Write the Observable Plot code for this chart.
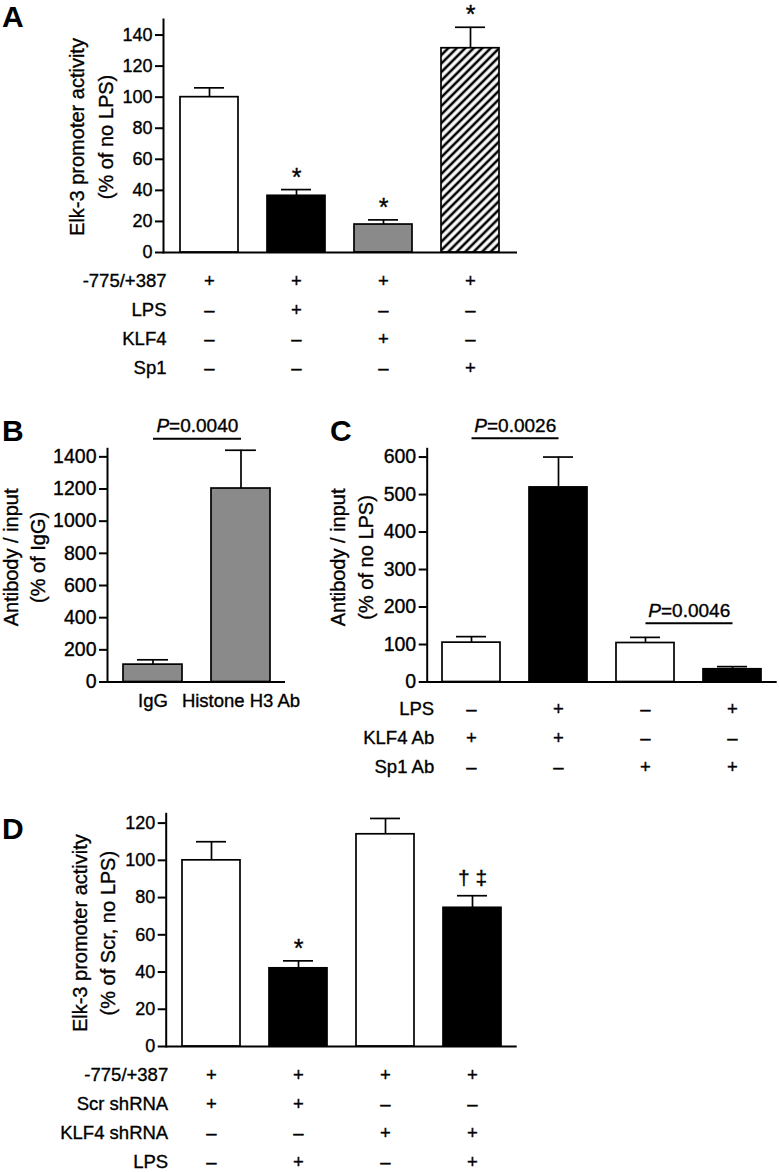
<!DOCTYPE html>
<html><head><meta charset="utf-8">
<script src="https://cdn.jsdelivr.net/npm/d3@7"></script>
<script src="https://cdn.jsdelivr.net/npm/@observablehq/plot@0.6"></script>
<style>
body{margin:0;background:#fff;}
#fig{position:relative;width:779px;height:1172px;font-family:"Liberation Sans",Arial,Helvetica,sans-serif;background:#fff;overflow:hidden;}
#fig svg.plot{position:absolute;}
#fig svg.plot text{stroke:black;stroke-width:0.35px;}
.letter{position:absolute;font-weight:bold;font-size:30px;line-height:30px;color:#000;}
</style></head><body>
<svg width="0" height="0" style="position:absolute"><defs>
<pattern id="hatch" patternUnits="userSpaceOnUse" width="6" height="6" patternTransform="rotate(45)">
<rect width="6" height="6" fill="white"/><line x1="3" y1="-1" x2="3" y2="7" stroke="black" stroke-width="2.6"/>
</pattern></defs></svg>
<div id="fig"></div>
<script>
// ---------- Panel A data ----------
const groupsA = ["ctrl", "LPS", "KLF4", "Sp1"];
const meanA = [100, 36.5, 18, 131.5];
const upperA = [106, 40.5, 21, 145];
const sigA = ["", "*", "*", "*"];
const rowLabelsA = ["-775/+387", "LPS", "KLF4", "Sp1"];
const rowSignsA = [["+", "+", "+", "+"], ["–", "+", "–", "–"], ["–", "–", "+", "–"], ["–", "–", "–", "+"]];
const ticksA = [0, 20, 40, 60, 80, 100, 120, 140];

// ---------- Panel B data ----------
const groupsB = ["IgG", "Histone H3 Ab"];
const meanB = [108, 1203];
const upperB = [138, 1441];
const compB = [{from: "IgG", to: "Histone H3 Ab", label: "P=0.0040", level: 1513}];
const ticksB = [0, 200, 400, 600, 800, 1000, 1200, 1400];

// ---------- Panel C data ----------
const groupsC = ["KLF4 Ab", "KLF4 Ab + LPS", "Sp1 Ab", "Sp1 Ab + LPS"];
const meanC = [105, 519, 104, 34];
const upperC = [121, 600, 119, 41];
const compC = [
  {from: "KLF4 Ab", to: "KLF4 Ab + LPS", label: "P=0.0026", level: 650},
  {from: "Sp1 Ab", to: "Sp1 Ab + LPS", label: "P=0.0046", level: 157}
];
const rowLabelsC = ["LPS", "KLF4 Ab", "Sp1 Ab"];
const rowSignsC = [["–", "+", "–", "+"], ["+", "+", "–", "–"], ["–", "–", "+", "+"]];
const ticksC = [0, 100, 200, 300, 400, 500, 600];

// ---------- Panel D data ----------
const groupsD = ["Scr", "Scr + LPS", "KLF4 shRNA", "KLF4 shRNA + LPS"];
const meanD = [100, 42, 114, 74.5];
const upperD = [110, 46, 122.5, 81];
const sigD = ["", "*", "", "† ‡"];
const rowLabelsD = ["-775/+387", "Scr shRNA", "KLF4 shRNA", "LPS"];
const rowSignsD = [["+", "+", "+", "+"], ["+", "+", "–", "–"], ["–", "–", "+", "+"], ["–", "+", "–", "+"]];
const ticksD = [0, 20, 40, 60, 80, 100, 120];

// ---------- styles ----------
const GRAY = "#8a8a8a";
const fillsA = ["white", "black", GRAY, "url(#hatch)"];
const fillsB = [GRAY, GRAY];
const fillsC = ["white", "black", "white", "black"];
const fillsD = ["white", "black", "white", "black"];
const FONT = '"Liberation Sans", Arial, Helvetica, sans-serif';

function panel(o) {
  const n = o.groups.length;
  const data = o.groups.map((g, i) => ({g, v: o.mean[i], e: o.upper[i], f: o.fills[i], s: o.sig ? o.sig[i] : ""}));
  const step = (o.width - o.ml - o.mr) / (n - o.pi + 2 * o.po);
  const marks = [
    Plot.barY(data, {x: "g", y: "v", fill: "f", stroke: "black", strokeWidth: 1.7}),
    Plot.ruleX(data, {x: "g", y1: "v", y2: "e", stroke: "black", strokeWidth: 1.7}),
    Plot.tickY(data, {x: "g", y: "e", stroke: "black", strokeWidth: 1.7, insetLeft: 14, insetRight: 14}),
    Plot.ruleY([0], {stroke: "black", strokeWidth: 2}),
    Plot.frame({anchor: "left", stroke: "black", strokeWidth: 2}),
    Plot.axisY({ticks: o.ticks, tickFormat: d => String(d), tickSize: 8, tickPadding: 3, fontSize: o.tickFont, label: null, stroke: "black", strokeWidth: 2, fill: "black"}),
    Plot.text([o.ylab[0]], {text: d => d, frameAnchor: "left", rotate: -90, fontSize: 20, textAnchor: "middle", lineAnchor: "middle", dx: o.ylabX[0] - o.ml, dy: o.ylabDy}),
    Plot.text([o.ylab[1]], {text: d => d, frameAnchor: "left", rotate: -90, fontSize: 20, textAnchor: "middle", lineAnchor: "middle", dx: o.ylabX[1] - o.ml, dy: o.ylabDy})
  ];
  if (o.sig) {
    marks.push(Plot.text(data, {filter: d => d.s === "*", x: "g", y: "e", text: "s", lineAnchor: "bottom", dy: -4, fontSize: 25}));
    marks.push(Plot.text(data, {filter: d => d.s !== "*" && d.s !== "", x: "g", y: "e", text: "s", lineAnchor: "bottom", dy: -11, fontSize: 21}));
  }
  if (o.comps) {
    marks.push(Plot.link(o.comps, {x1: "from", x2: "to", y1: "level", y2: "level", stroke: "black", strokeWidth: 2}));
    marks.push(Plot.text(o.comps, {x: "from", y: "level", text: "label", dx: step / 2, dy: -6.5, lineAnchor: "bottom", fontSize: 19}));
  }
  if (o.xlabels) {
    marks.push(Plot.text(o.groups, {x: d => d, text: (d, j) => o.xlabels[j], frameAnchor: "bottom", lineAnchor: "middle", dy: 19.5, fontSize: 18.5}));
  }
  if (o.rowLabels) {
    o.rowLabels.forEach((lab, i) => {
      marks.push(Plot.text([lab], {text: d => d, frameAnchor: "bottom-left", textAnchor: "end", lineAnchor: "middle", dx: o.rowDx, dy: o.rowY[i], fontSize: 18.5}));
      marks.push(Plot.text(o.groups, {x: d => d, text: (d, j) => o.rowSigns[i][j], frameAnchor: "bottom", lineAnchor: "middle", dy: o.rowY[i], fontSize: 18.5}));
    });
  }
  const svg = Plot.plot({
    width: o.width, height: o.height,
    marginLeft: o.ml, marginRight: o.mr, marginTop: o.mt, marginBottom: o.mb,
    x: {type: "band", domain: o.groups, paddingInner: o.pi, paddingOuter: o.po, axis: null},
    y: {domain: o.yDomain},
    color: {type: "identity"},
    style: {fontFamily: FONT, fontSize: "18px", color: "black", background: "transparent", overflow: "visible"},
    marks
  });
  // italic P in p-value labels
  d3.select(svg).selectAll("text").each(function () {
    const t = this.textContent;
    if (/^P=/.test(t) && this.childNodes.length === 1) {
      this.textContent = "";
      const ts = document.createElementNS("http://www.w3.org/2000/svg", "tspan");
      ts.setAttribute("font-style", "italic");
      ts.textContent = "P";
      this.appendChild(ts);
      this.appendChild(document.createTextNode(t.slice(1)));
    }
  });
  svg.classList.add("plot");
  svg.style.left = o.left + "px";
  svg.style.top = o.top + "px";
  svg.style.position = "absolute";
  return svg;
}

const fig = document.getElementById("fig");

fig.appendChild(panel({
  left: 0, top: 0, width: 530, height: 385, ml: 163, mr: 13, mt: 19, mb: 133,
  groups: groupsA, mean: meanA, upper: upperA, fills: fillsA, sig: sigA,
  yDomain: [0, 150], ticks: ticksA, tickFont: 18, pi: 0.33, po: 0.19,
  ylab: ["Elk-3 promoter activity", "(% of no LPS)"], ylabX: [77, 106], ylabDy: 1,
  rowLabels: rowLabelsA, rowSigns: rowSignsA, rowY: [29, 58, 87, 116], rowDx: 3
}));

fig.appendChild(panel({
  left: 0, top: 400, width: 300, height: 320, ml: 107, mr: 15, mt: 48.3, mb: 38.5,
  groups: groupsB, mean: meanB, upper: upperB, fills: fillsB,
  yDomain: [0, 1450], ticks: ticksB, tickFont: 19.5, pi: 0.334, po: 0.17,
  ylab: ["Antibody / input", "(% of IgG)"], ylabX: [11, 38], ylabDy: -8,
  comps: compB, xlabels: groupsB
}));

fig.appendChild(panel({
  left: 320, top: 400, width: 459, height: 380, ml: 106.7, mr: 2.3, mt: 48.3, mb: 98.5,
  groups: groupsC, mean: meanC, upper: upperC, fills: fillsC,
  yDomain: [0, 622], ticks: ticksC, tickFont: 19.5, pi: 0.33, po: 0.165,
  ylab: ["Antibody / input", "(% of no LPS)"], ylabX: [18, 46], ylabDy: -8,
  comps: compC,
  rowLabels: rowLabelsC, rowSigns: rowSignsC, rowY: [27, 56, 85], rowDx: 7
}));

fig.appendChild(panel({
  left: 0, top: 790, width: 530, height: 382, ml: 165.7, mr: 13.3, mt: 23.3, mb: 126,
  groups: groupsD, mean: meanD, upper: upperD, fills: fillsD, sig: sigD,
  yDomain: [0, 125], ticks: ticksD, tickFont: 18, pi: 0.33, po: 0.166,
  ylab: ["Elk-3 promoter activity", "(% of Scr, no LPS)"], ylabX: [80, 108], ylabDy: 3,
  rowLabels: rowLabelsD, rowSigns: rowSignsD, rowY: [29, 58, 87, 116], rowDx: 2
}));

[["A", 2, 2], ["B", 2, 416], ["C", 330, 416], ["D", 2, 814]].forEach(([t, x, y]) => {
  const d = document.createElement("div");
  d.className = "letter";
  d.textContent = t;
  d.style.left = x + "px";
  d.style.top = y + "px";
  fig.appendChild(d);
});
</script>
</body></html>
